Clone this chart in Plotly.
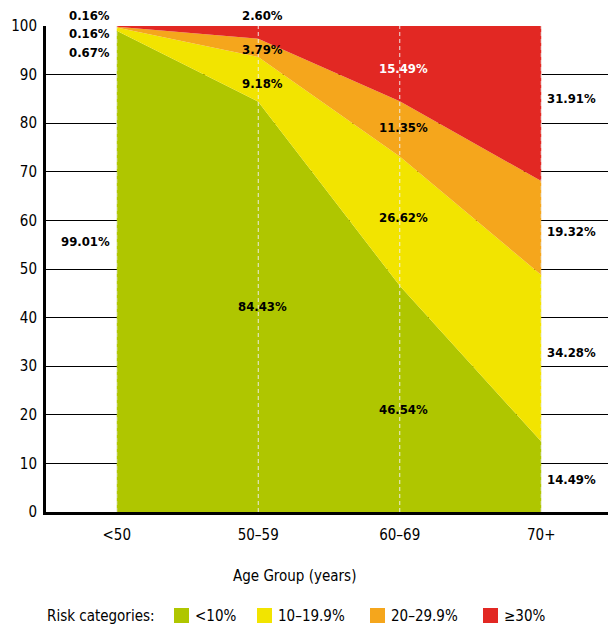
import plotly.graph_objects as go

age_groups = ["<50", "50–59", "60–69", "70+"]
series_names = ["<10%", "10–19.9%", "20–29.9%", "≥30%"]
risk_lt10 = [99.01, 84.43, 46.54, 14.49]
risk_10_19 = [0.67, 9.18, 26.62, 34.28]
risk_20_29 = [0.16, 3.79, 11.35, 19.32]
risk_ge30 = [0.16, 2.60, 15.49, 31.91]
y_ticks = [0, 10, 20, 30, 40, 50, 60, 70, 80, 90, 100]

series = [risk_lt10, risk_10_19, risk_20_29, risk_ge30]
colors = ["#afc600", "#f2e400", "#f5a61c", "#e22823"]
FONT = "DejaVu Sans Condensed, sans-serif"

# ---- layout geometry (figure pixel coords; page body adds an 8px offset) ----
W, H = 608, 620
ML, MR, MT, MB = 38, 4, 18, 116
PW, PH = W - ML - MR, H - MT - MB
OFF = 8


def px(wx):
    return (wx - OFF - ML) / PW


def py(wy):
    return (H - MB - (wy - OFF)) / PH


# label placement style: (y in data units or "top" for above plot, anchor side)
label_y = {
    (0, 0): 55.6, (0, 1): 94.65, (0, 2): 98.56, (0, 3): "top",
    (1, 0): 42.2, (1, 1): 88.1, (1, 2): 95.1, (1, 3): "top",
    (2, 0): 21.0, (2, 1): 60.7, (2, 2): 79.1, (2, 3): 91.3,
    (3, 0): 6.6, (3, 1): 32.9, (3, 2): 57.8, (3, 3): 85.0,
}
white_labels = {(2, 3)}

xs = list(range(len(age_groups)))
fig = go.Figure()
for name, vals, col in zip(series_names, series, colors):
    fig.add_trace(go.Scatter(
        x=xs, y=vals, name=name, stackgroup="one", mode="lines",
        line=dict(width=0, color=col), fillcolor=col, hoverinfo="skip",
        showlegend=False))

anns = []
for ci in xs:
    for si, vals in enumerate(series):
        txt = f"<b>{vals[ci]:.2f}%</b>"
        color = "white" if (ci, si) in white_labels else "black"
        if ci == 0:
            xa, xsh = "right", -5
        elif ci == len(xs) - 1:
            xa, xsh = "left", 4
        else:
            xa, xsh = "center", 4
        yv = label_y[(ci, si)]
        a = dict(x=ci, text=txt, xanchor=xa, xshift=xsh, showarrow=False,
                 font=dict(size=13, color=color, family=FONT))
        if yv == "top":
            a.update(y=1.0, yref="paper", yanchor="middle", yshift=11)
        else:
            a.update(y=yv, yanchor="middle")
        anns.append(a)

# axis title
anns.append(dict(x=px(294), y=py(576), xref="paper", yref="paper", text="Age Group (years)",
                 xanchor="center", yanchor="middle", showarrow=False,
                 font=dict(size=15, family=FONT, color="black")))
# legend (manual)
anns.append(dict(x=px(45), y=py(616), xref="paper", yref="paper", text="Risk categories:",
                 xanchor="left", yanchor="middle", showarrow=False,
                 font=dict(size=15, family=FONT, color="black")))
legend_sq_x = [174, 257, 370, 483]
shapes = []
for name, col, lx in zip(series_names, colors, legend_sq_x):
    shapes.append(dict(type="rect", xref="paper", yref="paper",
                       x0=px(lx), x1=px(lx + 15), y0=py(623), y1=py(608),
                       fillcolor=col, line=dict(width=0)))
    anns.append(dict(x=px(lx + 19), y=py(616), xref="paper", yref="paper", text=name,
                     xanchor="left", yanchor="middle", showarrow=False,
                     font=dict(size=15, family=FONT, color="black")))

for ci in xs:
    shapes.append(dict(type="line", x0=ci, x1=ci, y0=0, y1=100, xref="x", yref="y",
                       line=dict(color="rgba(238,238,238,0.95)", width=1, dash="4px,3px"),
                       layer="above"))

fig.update_layout(
    width=W, height=H,
    margin=dict(l=ML, r=MR, t=MT, b=MB),
    paper_bgcolor="white", plot_bgcolor="white",
    font=dict(family=FONT, size=15, color="black"),
    showlegend=False,
    annotations=anns,
    shapes=shapes,
    xaxis=dict(range=[-0.5, 3.5], tickvals=xs, ticktext=age_groups, showgrid=False,
               showline=True, linecolor="black", linewidth=3, zeroline=False, automargin=False,
               ticks="", tickfont=dict(size=15), ticklabelstandoff=7),
    yaxis=dict(range=[0, 100], tickvals=y_ticks, showgrid=True, gridcolor="black", gridwidth=1,
               showline=True, linecolor="black", linewidth=3, zeroline=False, ticks="",
               automargin=False, tickfont=dict(size=15), ticklabelstandoff=3),
)
fig.write_html("out.html")
